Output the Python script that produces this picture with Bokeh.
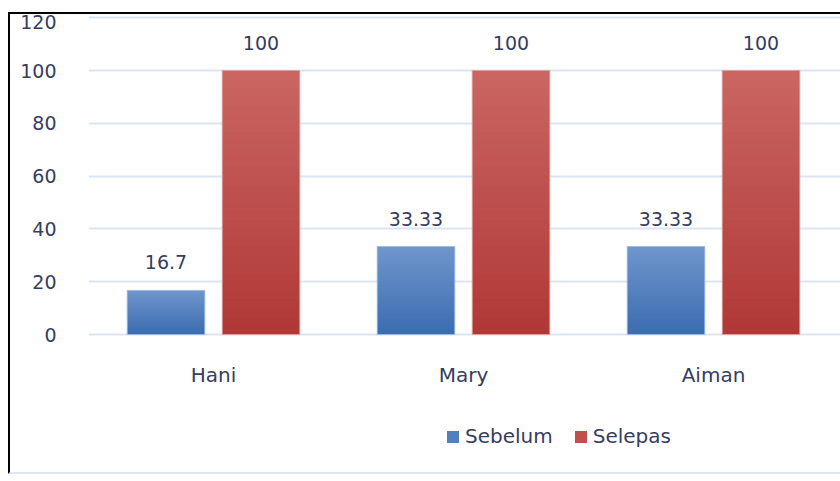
from bokeh.plotting import figure
from bokeh.layouts import column
from bokeh.models import Range1d, FixedTicker, Legend, LegendItem, ColumnDataSource
from bokeh.core.properties import value
from bokeh.embed import file_html
from bokeh.resources import INLINE

# ---- data ----
names = ["Hani", "Mary", "Aiman"]
sebelum = [16.7, 33.33, 33.33]
selepas = [100, 100, 100]
series_names = ["Sebelum", "Selepas"]
y_ticks = [0, 20, 40, 60, 80, 100, 120]

# ---- style ----
FONT = "DejaVu Sans"
TXT = "#363d5e"
GRID = "#dbe5f1"
blue_top, blue_bot, blue_mid, blue_edge = (112, 150, 204), (58, 108, 177), "#4f81bd", "#9dbbe0"
red_top, red_bot, red_mid, red_edge = (202, 102, 99), (176, 56, 54), "#c0504d", "#e0a09e"

W = 830
HP, HL = 386, 72
ML, MB = 78, 64
frame_w = W - ML
frame_h = HP - MB
px_per_unit = 2.64
y_start = -2 / px_per_unit
y_end = y_start + frame_h / px_per_unit
x_end = frame_w / 250.0

p = figure(width=W, height=HP, output_backend="svg", toolbar_location=None,
           x_range=Range1d(0, x_end), y_range=Range1d(y_start, y_end),
           min_border_left=ML, min_border_right=0, min_border_top=0,
           min_border_bottom=MB, outline_line_color=None)

# axes
p.yaxis.ticker = FixedTicker(ticks=y_ticks)
p.yaxis.axis_line_color = None
p.yaxis.major_tick_line_color = None
p.yaxis.minor_tick_line_color = None
p.yaxis.major_label_standoff = 26
p.yaxis.major_label_text_font = FONT
p.yaxis.major_label_text_font_size = "19px"
p.yaxis.major_label_text_color = TXT

centers = [i + 0.5 for i in range(len(names))]
p.xaxis.ticker = FixedTicker(ticks=centers)
p.xaxis.major_label_overrides = {c: n for c, n in zip(centers, names)}
p.xaxis.axis_line_color = None
p.xaxis.major_tick_line_color = None
p.xaxis.minor_tick_line_color = None
p.xaxis.major_label_standoff = 20
p.xaxis.major_label_text_font = FONT
p.xaxis.major_label_text_font_size = "20px"
p.xaxis.major_label_text_color = TXT

p.xgrid.grid_line_color = None
p.ygrid.ticker = FixedTicker(ticks=y_ticks)
p.ygrid.grid_line_color = GRID
p.ygrid.grid_line_width = 2

DODGE = 0.19
BW = 0.31
NSTRIP = 30


def lerp(c1, c2, t):
    return "#%02x%02x%02x" % tuple(int(round(a + (b - a) * t)) for a, b in zip(c1, c2))


# legend strip figure
lf = figure(width=W, height=HL, output_backend="svg", toolbar_location=None,
            x_range=Range1d(0, W), y_range=Range1d(0, HL),
            x_axis_location=None, y_axis_location=None,
            min_border=0, outline_line_color=None)
lf.xgrid.grid_line_color = None
lf.ygrid.grid_line_color = None

legend_items = []
for vals, off, top_c, bot_c, mid, edge, nm in [
    (sebelum, -DODGE, blue_top, blue_bot, blue_mid, blue_edge, series_names[0]),
    (selepas, DODGE, red_top, red_bot, red_mid, red_edge, series_names[1]),
]:
    xs = [c + off for c in centers]
    # solid base under the gradient
    p.vbar(x=xs, top=vals, bottom=0, width=BW, fill_color=mid, line_color=None)
    sx, sb, st, sc = [], [], [], []
    for x, v in zip(xs, vals):
        for i in range(NSTRIP):
            sx.append(x)
            sb.append(v * i / NSTRIP)
            st.append(min(v, v * (i + 1.6) / NSTRIP))
            sc.append(lerp(bot_c, top_c, (i + 0.5) / NSTRIP))
    p.vbar(x=sx, bottom=sb, top=st, width=BW, fill_color=sc, line_color=None)
    p.vbar(x=xs, top=vals, bottom=0, width=BW, fill_alpha=0, line_color=edge, line_width=1)
    src = ColumnDataSource(dict(x=xs, y=vals, t=[f"{v:g}" for v in vals]))
    p.text(x="x", y="y", text="t", source=src, text_align="center", text_baseline="middle",
           y_offset=-28, text_font=value(FONT), text_font_size="19px", text_color=TXT)
    # legend key: a zero-height bar (draws nothing in the strip itself)
    key = lf.vbar(x=[0], top=[0], bottom=[0], width=1, fill_color=mid, line_color=None)
    legend_items.append(LegendItem(label=nm, renderers=[key]))

legend = Legend(items=legend_items, orientation="horizontal", location=(357, 24),
                padding=0, margin=0, spacing=20, glyph_width=15, glyph_height=15,
                label_standoff=5, label_text_font=FONT, label_text_font_size="20px",
                label_text_color=TXT, border_line_color=None, background_fill_alpha=0,
                label_height=20)
lf.add_layout(legend, "center")

layout = column(p, lf, spacing=0)
layout.margin = (12, 0, 0, 8)
layout.styles = {"border-top": "2px solid #000000", "border-left": "2px solid #000000",
                 "border-bottom": "2px solid #dde7f3"}

open("out.html", "w").write(file_html(layout, INLINE))
